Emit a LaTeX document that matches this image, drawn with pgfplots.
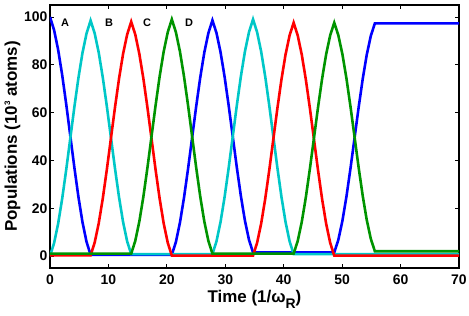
\documentclass[border=0pt]{standalone}
\usepackage{pgfplots}
\pgfplotsset{compat=1.18}
\usepackage{fontspec}
\setmainfont{Liberation Sans}
\definecolor{mblue}{rgb}{0,0,1}
\definecolor{mcyan}{rgb}{0,0.78,0.78}
\definecolor{mred}{rgb}{1,0,0}
\definecolor{mgreen}{rgb}{0,0.58,0}
\begin{document}
\begin{tikzpicture}
\begin{axis}[name=ax,
  scale only axis, width=409bp, height=263bp,
  xmin=0, xmax=70, ymin=-5, ymax=105,
  xtick={0,10,...,70}, ytick={0,20,...,100},
  tick align=inside, tick pos=both,
  major tick length=4bp,
  axis line style={line width=1.2pt},
  every tick/.style={line width=0.9pt, black},
  /pgf/number format/assume math mode=true,
  tick label style={font=\fontsize{14}{16}\selectfont\bfseries},
  xticklabel style={yshift=-3bp},
  yticklabel style={xshift=1bp},
  xlabel={\textbf{Time (1/ω\raisebox{-0.75ex}{\fontsize{14}{16}\selectfont R})}},
  ylabel={\textbf{Populations (10\raisebox{0.75ex}{\fontsize{8}{9}\selectfont 3} atoms)}},
  label style={font=\fontsize{17}{19}\selectfont\bfseries},
  xlabel style={at={(axis description cs:0.5,0)}, anchor=base, yshift=-34bp},
  ylabel style={yshift=-3bp},
  clip=true,
]
% Blue (A)
\addplot[mblue, line width=2.6pt] coordinates {
(0,100)(0.695,94.56)(1.39,86.34)(2.085,75.75)(2.78,63.45)(3.475,50.25)(4.17,37.05)(4.865,24.75)(5.56,14.16)(6.255,5.94)(6.95,0.5)
(20.85,0.5)(21.545,5.87)(22.24,13.97)(22.935,24.41)(23.63,36.53)(24.325,49.55)(25.02,62.57)(25.715,74.69)(26.41,85.13)(27.105,93.23)(27.8,98.6)
(28.495,93.29)(29.19,85.27)(29.885,74.94)(30.58,62.94)(31.275,50.05)(31.97,37.16)(32.665,25.16)(33.36,14.83)(34.055,6.81)(34.75,1.5)
(48.65,1.5)(49.345,6.74)(50.04,14.65)(50.735,24.85)(51.43,36.69)(52.125,49.40)(52.82,62.11)(53.515,73.95)(54.21,84.15)(54.905,92.06)(55.6,97.3)
(70,97.3)};
% Cyan (B)
\addplot[mcyan, line width=2.6pt] coordinates {
(0,0)(0.695,5.39)(1.39,13.52)(2.085,24.00)(2.78,36.18)(3.475,49.25)(4.17,62.32)(4.865,74.50)(5.56,84.98)(6.255,93.11)(6.95,98.5)
(7.645,93.16)(8.34,85.09)(9.035,74.69)(9.73,62.61)(10.425,49.65)(11.12,36.69)(11.815,24.61)(12.51,14.21)(13.205,6.14)(13.9,0.8)
(27.8,0.8)(28.495,6.17)(29.19,14.28)(29.885,24.73)(30.58,36.87)(31.275,49.9)(31.97,62.93)(32.665,75.07)(33.36,85.52)(34.055,93.63)(34.75,99)
(35.445,93.63)(36.14,85.52)(36.835,75.07)(37.53,62.93)(38.225,49.9)(38.92,36.87)(39.615,24.73)(40.31,14.28)(41.005,6.17)(41.7,0.8)
(70,0.8)};
% Red (C)
\addplot[mred, line width=2.6pt] coordinates {
(0,0.3)(6.95,0.3)(7.645,5.64)(8.34,13.71)(9.035,24.11)(9.73,36.19)(10.425,49.15)(11.12,62.11)(11.815,74.19)(12.51,84.59)(13.205,92.66)(13.9,98)
(14.595,92.65)(15.29,84.57)(15.985,74.17)(16.68,62.08)(17.375,49.1)(18.07,36.12)(18.765,24.03)(19.46,13.63)(20.155,5.55)(20.85,0.2)
(34.75,0.2)(35.445,5.53)(36.14,13.57)(36.835,23.94)(37.53,35.97)(38.225,48.9)(38.92,61.83)(39.615,73.86)(40.31,84.23)(41.005,92.27)(41.7,97.6)
(42.395,92.27)(43.09,84.23)(43.785,73.86)(44.48,61.83)(45.175,48.9)(45.87,35.97)(46.565,23.94)(47.26,13.57)(47.955,5.53)(48.65,0.2)
(70,0.2)};
% Green (D)
\addplot[mgreen, line width=2.6pt] coordinates {
(0,1)(13.9,1)(14.595,6.36)(15.29,14.46)(15.985,24.88)(16.68,37.00)(17.375,50)(18.07,63.00)(18.765,75.12)(19.46,85.54)(20.155,93.64)(20.85,99)
(21.545,93.64)(22.24,85.54)(22.935,75.12)(23.63,63.00)(24.325,50)(25.02,37.00)(25.715,24.88)(26.41,14.46)(27.105,6.36)(27.8,1)
(41.7,1)(42.395,6.28)(43.09,14.26)(43.785,24.54)(44.48,36.48)(45.175,49.3)(45.87,62.12)(46.565,74.06)(47.26,84.34)(47.955,92.32)(48.65,97.6)
(49.345,92.37)(50.04,84.47)(50.735,74.30)(51.43,62.49)(52.125,49.8)(52.82,37.11)(53.515,25.30)(54.21,15.13)(54.905,7.23)(55.6,2)
(70,2)};
\node[font=\fontsize{11}{13}\selectfont\bfseries] at (axis cs:2.6,97.5) {A};
\node[font=\fontsize{11}{13}\selectfont\bfseries] at (axis cs:10.1,97.5) {B};
\node[font=\fontsize{11}{13}\selectfont\bfseries] at (axis cs:16.6,97.5) {C};
\node[font=\fontsize{11}{13}\selectfont\bfseries] at (axis cs:23.8,97.5) {D};
\end{axis}
\pgfresetboundingbox
\path ([xshift=-50bp,yshift=-48bp]ax.south west) rectangle ([xshift=10bp,yshift=5bp]ax.north east);
\end{tikzpicture}
\end{document}
